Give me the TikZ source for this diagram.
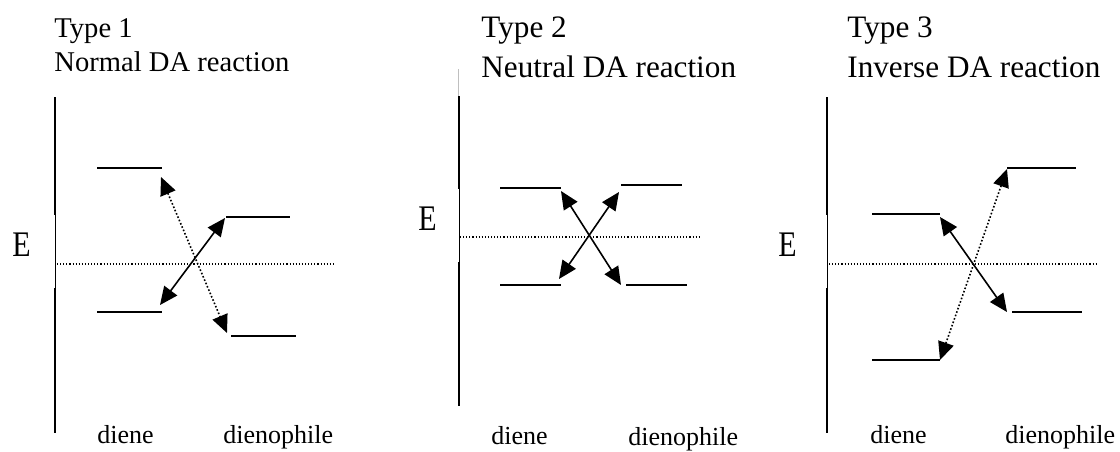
\documentclass[tikz,border=0pt]{standalone}
\usepackage{fontspec}
\setmainfont{Liberation Serif}
\usetikzlibrary{arrows.meta}
\begin{document}
\begin{tikzpicture}[x=0.5pt,y=-0.5pt,
  lvl/.style={line width=1pt},
  axthick/.style={line width=1pt},
  axthin/.style={line width=0.5pt},
  zeroline/.style={densely dotted, line width=0.55pt},
  orb/.style={line width=0.8pt, {Triangle[length=9pt,width=8pt]}-{Triangle[length=9pt,width=8pt]}},
  orbdot/.style={orb, densely dotted},
  txt/.style={inner sep=0pt, anchor=base west},
  titleA/.style={txt, font=\fontsize{14.3pt}{17pt}\selectfont},
  titleB/.style={txt, font=\fontsize{15.6pt}{19pt}\selectfont},
  lab/.style={txt, font=\fontsize{13pt}{15pt}\selectfont},
  elab/.style={txt, font=\fontsize{15pt}{17pt}\selectfont, yscale=1.2}
]
\useasboundingbox (0,0) rectangle (1120,451);

% ---------------- Panel 1 ----------------
\node[titleA] (t1a) at (54,37) {Type 1};
\node[titleA] (t1b) at (54,71) {Normal DA reaction};
\node[elab] (e1) at (12,256) {E};
\draw[axthick] (55,97) -- (55,215);
\draw[axthin] (55,215) -- (55,288);
\draw[axthick] (55,288) -- (55,433);
\draw[zeroline] (57,264) -- (333,264);
\draw[lvl] (97,168) -- (162,168);
\draw[lvl] (97,312) -- (162,312);
\draw[lvl] (226,217) -- (290,217);
\draw[lvl] (231,336) -- (296,336);
\coordinate (p1a) at (160,305);
\coordinate (p1b) at (225,218);
\coordinate (p1c) at (161,177);
\coordinate (p1d) at (227,333);
\draw[orb] (p1a) -- (p1b);
\draw[orbdot] (p1c) -- (p1d);
\node[lab] (d1) at (97,443) {diene};
\node[lab] (f1) at (223,443) {dienophile};

% ---------------- Panel 2 ----------------
\node[titleB] (t2a) at (481,37) {Type 2};
\node[titleB] (t2b) at (481,77) {Neutral DA reaction};
\node[elab] (e2) at (418,230) {E};
\draw[line width=0.4pt, black!25] (458,69) -- (458,96);
\draw[axthick] (459,96) -- (459,189);
\draw[axthin] (459,189) -- (459,262);
\draw[axthick] (459,262) -- (459,406);
\draw[zeroline] (460,237) -- (701,237);
\draw[lvl] (500,188) -- (561,188);
\draw[lvl] (500,285) -- (561,285);
\draw[lvl] (621,185) -- (682,185);
\draw[lvl] (626,285) -- (687,285);
\coordinate (p2a) at (561,191);
\coordinate (p2b) at (621,285);
\coordinate (p2c) at (559,279);
\coordinate (p2d) at (619,192);
\draw[orb] (p2a) -- (p2b);
\draw[orb] (p2c) -- (p2d);
\node[lab] (d2) at (491,444) {diene};
\node[lab] (f2) at (628,445) {dienophile};

% ---------------- Panel 3 ----------------
\node[titleB] (t3a) at (847,37) {Type 3};
\node[titleB] (t3b) at (847,77) {Inverse DA reaction};
\node[elab] (e3) at (778,256) {E};
\draw[axthick] (827,97) -- (827,215);
\draw[axthin] (827,215) -- (827,288);
\draw[axthick] (827,288) -- (827,433);
\draw[zeroline] (829,264) -- (1097,264);
\draw[lvl] (872,214) -- (940,214);
\draw[lvl] (872,360) -- (940,360);
\draw[lvl] (1007,168) -- (1076,168);
\draw[lvl] (1012,312) -- (1082,312);
\coordinate (p3a) at (940,217);
\coordinate (p3b) at (1007,312);
\coordinate (p3c) at (1007,169);
\coordinate (p3d) at (940,360);
\draw[orb] (p3a) -- (p3b);
\draw[orbdot] (p3c) -- (p3d);
\node[lab] (d3) at (870,443) {diene};
\node[lab] (f3) at (1005,443) {dienophile};
\end{tikzpicture}
\end{document}
